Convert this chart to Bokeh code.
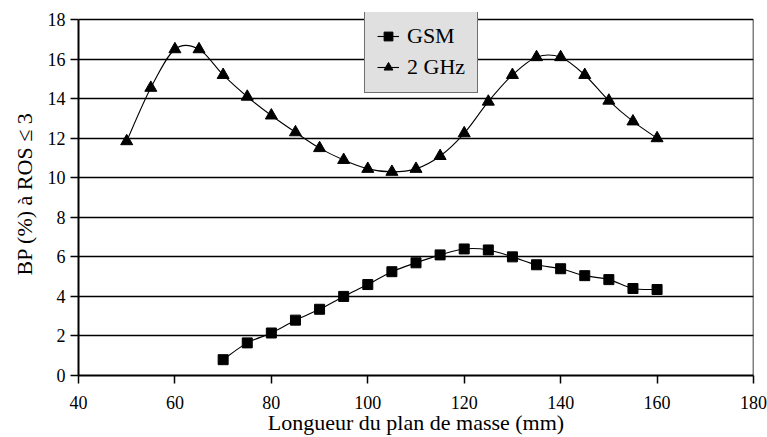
import numpy as np
from bokeh.plotting import figure
from bokeh.models import FixedTicker, Legend, LegendItem, Range1d
from bokeh.embed import file_html
from bokeh.resources import INLINE

# ---- data ----
lengths_2ghz = [50, 55, 60, 65, 70, 75, 80, 85, 90, 95, 100, 105, 110, 115,
                120, 125, 130, 135, 140, 145, 150, 155, 160]
bw_2ghz = [11.85, 14.55, 16.5, 16.5, 15.2, 14.1, 13.15, 12.3, 11.5, 10.9, 10.45,
           10.3, 10.45, 11.1, 12.25, 13.85, 15.2, 16.1, 16.1, 15.2, 13.9, 12.85, 12.0]
lengths_gsm = [70, 75, 80, 85, 90, 95, 100, 105, 110, 115, 120, 125, 130, 135,
               140, 145, 150, 155, 160]
bw_gsm = [0.8, 1.65, 2.15, 2.8, 3.35, 4.0, 4.6, 5.25, 5.7, 6.1, 6.4, 6.35, 6.0,
          5.6, 5.4, 5.05, 4.85, 4.4, 4.35]
x_ticks = [40, 60, 80, 100, 120, 140, 160, 180]
y_ticks = [0, 2, 4, 6, 8, 10, 12, 14, 16, 18]
x_label = "Longueur du plan de masse (mm)"
y_label = "BP (%) à ROS ≤ 3"
series_names = ["GSM", "2 GHz"]

FONT = "'Liberation Serif', 'Times New Roman', serif"

x_min, x_max = x_ticks[0], x_ticks[-1]
y_min, y_max = y_ticks[0], y_ticks[-1]
# a little head-room above the top gridline so the legend box can overhang it
y_view_max = y_max + 0.36


def smooth_segments(x, y):
    """Bezier control points (Catmull-Rom style smoothing, as Excel smoothed lines)."""
    x = np.asarray(x, float)
    y = np.asarray(y, float)
    xp = np.concatenate([[x[0]], x, [x[-1]]])
    yp = np.concatenate([[y[0]], y, [y[-1]]])
    n = len(x)
    i = np.arange(n - 1)
    cx0 = x[i] + (x[i + 1] - xp[i]) / 6.0
    cy0 = y[i] + (y[i + 1] - yp[i]) / 6.0
    cx1 = x[i + 1] - (xp[i + 3] - x[i]) / 6.0
    cy1 = y[i + 1] - (yp[i + 3] - y[i]) / 6.0
    return dict(x0=x[:-1], y0=y[:-1], x1=x[1:], y1=y[1:],
                cx0=cx0, cy0=cy0, cx1=cx1, cy1=cy1)


p = figure(width=767, height=437, output_backend="svg", toolbar_location=None,
           x_range=Range1d(x_min, x_max), y_range=Range1d(y_min, y_view_max),
           min_border_left=78, min_border_right=14, min_border_top=12,
           min_border_bottom=0)
p.background_fill_color = "white"
p.border_fill_color = "white"
p.outline_line_color = None

# grid
p.xgrid.visible = False
p.ygrid.ticker = FixedTicker(ticks=y_ticks)
p.ygrid.grid_line_color = "black"
p.ygrid.grid_line_width = 1.5
p.ygrid.grid_line_alpha = 1.0

# axes
for ax in (p.xaxis[0], p.yaxis[0]):
    ax.axis_line_color = "black"
    ax.axis_line_width = 2
    ax.major_tick_line_color = "black"
    ax.major_tick_line_width = 1.5
    ax.major_tick_out = 8
    ax.major_tick_in = 0
    ax.minor_tick_line_color = None
    ax.major_label_text_font = FONT
    ax.major_label_text_font_size = "18px"
    ax.major_label_text_color = "black"
    ax.axis_label_text_font = FONT
    ax.axis_label_text_font_size = "22px"
    ax.axis_label_text_font_style = "normal"
    ax.axis_label_text_color = "black"

p.xaxis[0].ticker = FixedTicker(ticks=x_ticks)
p.yaxis[0].ticker = FixedTicker(ticks=y_ticks)
p.yaxis[0].bounds = (y_min, y_max)
p.xaxis[0].axis_label = x_label
p.yaxis[0].axis_label = y_label
p.xaxis[0].major_label_standoff = 12
p.xaxis[0].axis_label_standoff = -2
p.yaxis[0].major_label_standoff = 5
p.yaxis[0].axis_label_standoff = 8

# right-hand border of the plot area (from y_min to y_max at x_max)
p.segment(x0=[x_max], y0=[y_min], x1=[x_max], y1=[y_max],
          line_color="black", line_width=1.5)

# series
seg_gsm = smooth_segments(lengths_gsm, bw_gsm)
seg_2g = smooth_segments(lengths_2ghz, bw_2ghz)

bez_gsm = p.bezier(line_color="black", line_width=1.1, **seg_gsm)
bez_2g = p.bezier(line_color="black", line_width=1.1, **seg_2g)
sc_gsm = p.scatter(lengths_gsm, bw_gsm, marker="square", size=10,
                   fill_color="black", line_color="black")
sc_2g = p.scatter(lengths_2ghz, bw_2ghz, marker="triangle", size=12,
                  fill_color="black", line_color="black")

legend = Legend(items=[LegendItem(label=series_names[0], renderers=[bez_gsm, sc_gsm]),
                       LegendItem(label=series_names[1], renderers=[bez_2g, sc_2g])],
                location=(286, 282))
legend.background_fill_color = "#e0e0e0"
legend.background_fill_alpha = 1.0
legend.border_line_color = "black"
legend.border_line_width = 1.2
legend.label_text_font = FONT
legend.label_text_font_size = "22px"
legend.label_text_color = "black"
legend.padding = 12
legend.spacing = 5
legend.margin = 0
legend.glyph_width = 22
legend.glyph_height = 26
legend.label_height = 26
legend.label_standoff = 8
p.add_layout(legend, "center")

open("out.html", "w").write(file_html(p, INLINE))
